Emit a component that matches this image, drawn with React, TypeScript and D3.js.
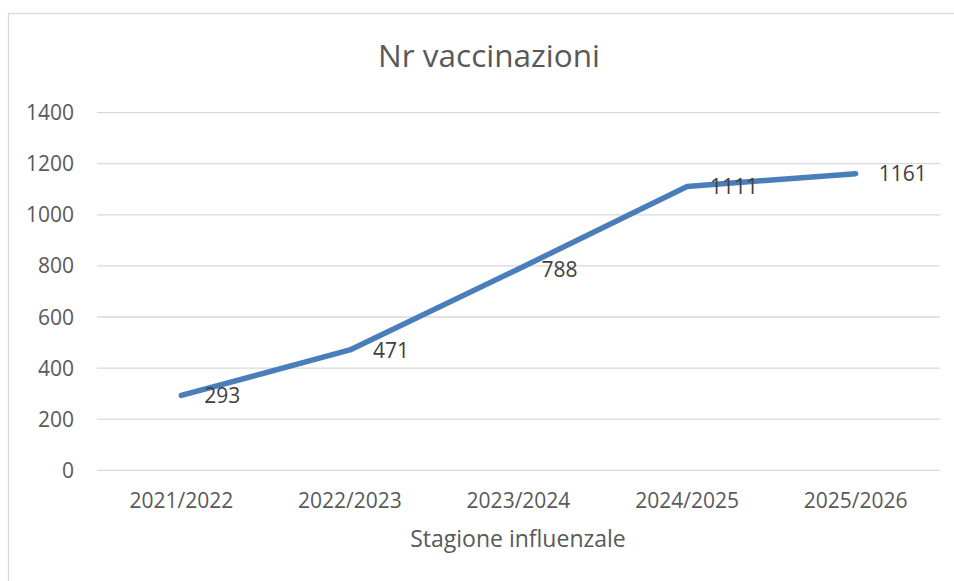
import * as d3 from "d3";

const seasons = ["2021/2022", "2022/2023", "2023/2024", "2024/2025", "2025/2026"];
const vaccinations = [293, 471, 788, 1111, 1161];
const yTicks = [0, 200, 400, 600, 800, 1000, 1200, 1400];

const chartTitle = "Nr vaccinazioni";
const xTitle = "Stagione influenzale";

export default function App() {
	const width = 954;
	const height = 581;
	const plot = { left: 97, right: 940, top: 112.6, bottom: 470.3 };

	const x = d3.scaleBand().domain(seasons).range([plot.left, plot.right]);
	const y = d3.scaleLinear().domain([0, 1400]).range([plot.bottom, plot.top]);

	const cx = (s: string) => (x(s) as number) + x.bandwidth() / 2;

	const line = d3
		.line<number>()
		.x((_, i) => cx(seasons[i]))
		.y((d) => y(d));

	const font = "'Open Sans', sans-serif";
	const textColor = "#595959";

	return (
		<svg
			width={width}
			height={height}
			style={{ position: "absolute", left: 0, top: 0, background: "#fff" }}
			fontFamily={font}
		>
			<rect x={0} y={0} width={width} height={height} fill="#fff" />
			{/* chart frame, clipped by the window on the right and bottom */}
			<rect x={8.5} y={13.5} width={1000} height={700} fill="none" stroke="#d9d9d9" strokeWidth={1.3} />

			<text x={489} y={67} textAnchor="middle" fontSize={31.5} fill={textColor}>
				{chartTitle}
			</text>

			{yTicks.map((t) => (
				<g key={t}>
					<line x1={plot.left} x2={plot.right} y1={y(t)} y2={y(t)} stroke="#d9d9d9" strokeWidth={1.3} />
					<text x={74} y={y(t)} dy="0.36em" textAnchor="end" fontSize={21} fill={textColor}>
						{t}
					</text>
				</g>
			))}

			{seasons.map((s) => (
				<text key={s} x={cx(s)} y={508} textAnchor="middle" fontSize={21} fill={textColor}>
					{s}
				</text>
			))}

			<text x={518} y={547} textAnchor="middle" fontSize={23} fill={textColor}>
				{xTitle}
			</text>

			<path
				d={line(vaccinations) ?? ""}
				fill="none"
				stroke="#4a7ebb"
				strokeWidth={5.5}
				strokeLinecap="round"
				strokeLinejoin="round"
			/>

			{vaccinations.map((v, i) => (
				<text
					key={i}
					x={cx(seasons[i]) + 23}
					y={y(v)}
					dy="0.36em"
					fontSize={21}
					fill="#404040"
				>
					{v}
				</text>
			))}
		</svg>
	);
}
